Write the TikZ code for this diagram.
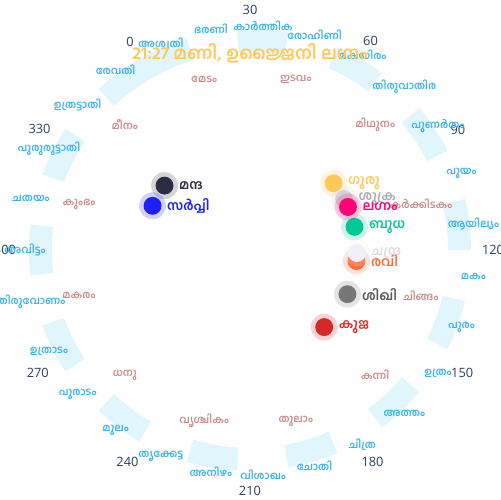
\documentclass[tikz,border=0pt]{standalone}
\usepackage{fontspec}
\setmainfont{Open Sans}
\newfontfamily\mal[Script=Malayalam]{Hind Kochi}
\usetikzlibrary{positioning}
\definecolor{tickcol}{HTML}{2A3F5F}
\definecolor{nakcol}{HTML}{3BB4E8}
\definecolor{rasicol}{HTML}{C98C8C}
\definecolor{barcol}{HTML}{E1F5FC}
\definecolor{titlecol}{HTML}{FFC857}
\definecolor{ravi}{HTML}{FF6B35}
\definecolor{chandra}{HTML}{F0F0F6}
\definecolor{kuja}{HTML}{D62828}
\definecolor{budha}{HTML}{00C896}
\definecolor{guru}{HTML}{FFC857}
\definecolor{shukra}{HTML}{D4D4D4}
\definecolor{manda}{HTML}{2B2D42}
\definecolor{sarpi}{HTML}{1E1EFF}
\definecolor{shikhi}{HTML}{777777}
\definecolor{lagna}{HTML}{FF0077}
\definecolor{chandratxt}{HTML}{DCDCE2}
\definecolor{shukratxt}{HTML}{AAAAAA}
\definecolor{shikhitxt}{HTML}{5A5A5A}

\begin{document}
\begin{tikzpicture}
		[x=0.02cm, y=0.02cm,
		naklbl/.style={text=nakcol, inner sep=0pt, font=\mal\bfseries\fontsize{6}{7}\selectfont},
		rasilbl/.style={text=rasicol, inner sep=0pt, font=\mal\bfseries\fontsize{6}{7}\selectfont},
		degree/.style={text=tickcol, inner sep=0pt, font=\fontsize{7.3}{8}\selectfont},
		nakbar/.style={fill=barcol},
		graha/.style={circle, fill=#1, minimum size=10.2pt, inner sep=0pt},
		grahalbl/.style={text=#1, inner sep=0pt, font=\mal\bfseries\fontsize{7.5}{8}\selectfont}]
		\useasboundingbox (-250,-250) rectangle (250,250);

		\foreach \k in {0,2,...,26} {
			\pgfmathsetmacro\a{120-13.3333*\k}
			\pgfmathsetmacro\b{\a-13.3333}
			\fill[nakbar] (\a:198) arc[start angle=\a, end angle=\b, radius=198]
				-- (\b:221) arc[start angle=\b, end angle=\a, radius=221] -- cycle;
		}

		\foreach \d/\r in {0/240, 30/240, 60/241, 90/240, 120/243, 150/245, 180/245, 210/241, 240/245, 270/245, 300/245, 330/243}
			\node[degree] (deg-\d) at ({120-\d}:\r) {\d};

		\foreach \nak [count=\i from 0] in {അശ്വതി, ഭരണി, കാർത്തിക, രോഹിണി, മകയിരം, തിരുവാതിര, പുണർതം, പൂയം, ആയില്യം, മകം, പൂരം, ഉത്രം, അത്തം, ചിത്ര, ചോതി, വിശാഖം, അനിഴം, തൃക്കേട്ട, മൂലം, പൂരാടം, ഉത്രാടം, തിരുവോണം, അവിട്ടം, ചതയം, പൂരുരുട്ടാതി, ഉത്രട്ടാതി, രേവതി}
			\node[naklbl] (nak-\i) at ({113.3333-13.3333*\i}:225) {\nak};

		\foreach \rasi [count=\i from 0] in {മേടം, ഇടവം, മിഥുനം, കർക്കിടകം, ചിങ്ങം, കന്നി, തുലാം, വൃശ്ചികം, ധനു, മകരം, കുംഭം, മീനം}
			\node[rasilbl] (rasi-\i) at ({105-30*\i}:177) {\rasi};

		\node[text=titlecol, font=\mal\bfseries\fontsize{10}{12}\selectfont] (title) at (0,197) {21:27 മണി, ഉജ്ജൈനി ലഗ്നം};

		\foreach \g/\a/\c/\t in {ravi/-5.9/ravi/രവി, chandra/-1.6/chandratxt/ചന്ദ്ര, kuja/-46.1/kuja/കുജ, budha/12.5/budha/ബുധ, guru/38.6/guru/ഗുരു, shukra/28.5/shukratxt/ശുക്ര, manda/143/manda/മന്ദ, sarpi/155.6/sarpi/സർപ്പി, shikhi/-24.4/shikhitxt/ശിഖി, lagna/23.7/lagna/ലഗ്നം} {
			\fill[\g, opacity=0.2] (\a:107) circle (13.5);
			\node[graha=\g] (\g) at (\a:107) {};
			\node[grahalbl=\c, right=2.8pt of \g] (\g-l) {\t};
		}
	\end{tikzpicture}
\end{document}
